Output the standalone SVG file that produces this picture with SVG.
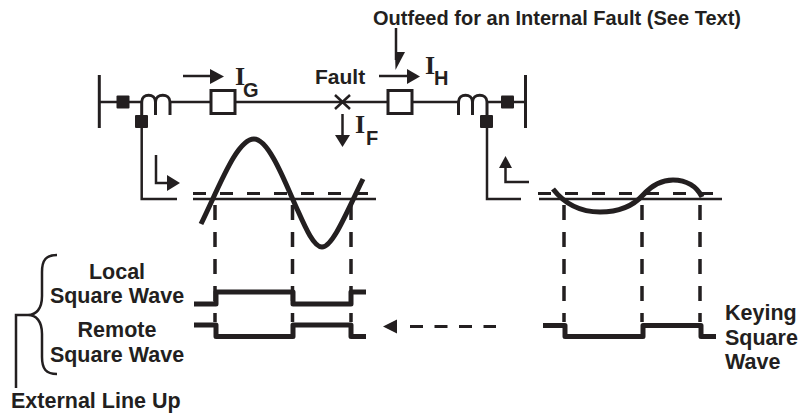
<svg xmlns="http://www.w3.org/2000/svg" width="799" height="415" viewBox="0 0 799 415">
<style>
text{font-family:"Liberation Sans",Arial,sans-serif;font-weight:bold;font-size:21.500px;fill:#231f20}
.top{font-size:20px}
.fault{font-size:21px}
.ser{font-family:"Liberation Serif","Times New Roman",serif;font-size:26px}
.sub{font-size:20px}
.l{fill:none;stroke:#231f20;stroke-width:2.500}
.t{fill:none;stroke:#231f20;stroke-width:3}
.w{fill:none;stroke:#231f20;stroke-width:5;stroke-linejoin:round}
.d{fill:none;stroke:#231f20;stroke-width:3.500;stroke-dasharray:15 12}
.h{fill:none;stroke:#231f20;stroke-width:3;stroke-dasharray:13 14}
.a{fill:none;stroke:#231f20;stroke-width:3;stroke-dasharray:13 11.500}
.f{fill:#231f20}
</style>
<rect width="799" height="415" fill="#fff"/>
<g id="connectors">
<path class="l" d="M99 102H142M170 102H211M235 102H387M412 102H458.500M487 102H525"/>
<path class="l" d="M141.700 115V199H177M487 115V199H521"/>
<path class="l" d="M156 155V183H168"/><path class="f" d="M167 175L180 183L167 191Z"/>
<path class="l" d="M505.500 168V182H529"/><path class="f" d="M499 168L505.500 156L512 168Z"/>
<path class="l" d="M183 76H212"/><path class="f" d="M210 69L224 76.500L210 84Z"/>
<path class="l" d="M379 76H408"/><path class="f" d="M407 69L420 76.500L407 84Z"/>
<path class="l" d="M342.500 114V136"/><path class="f" d="M335 135L342.500 147L350 135Z"/>
<path class="l" d="M396 28V60"/><path class="f" d="M395.500 70L395 52L405 52Z"/>
<path class="l" d="M335 95L350 109M350 95L335 109"/>
</g>
<g id="waveforms">
<path class="h" d="M193 193.500H370M538 193.500H715"/>
<path class="l" d="M193 199H376M539 199H722"/>
<path class="d" d="M215 205V322M292.500 205V322M351 205V322"/>
<path class="d" d="M564 205V322M642 205V322M700 205V322"/>
<path class="w" d="M201 224C220 185 237 139 254 139C270 139 288 190 298 211C306 229 314 247 322 247C333 247 348 209 363 179"/>
<path class="w" d="M553 189C567 207 585 212 600 212C622 212 634 205 643 195C652 185 663 180 673 180C687 180 697 187 702 197"/>
<path class="w" d="M194 304H216V292H293V304H351V292H366"/>
<path class="w" d="M194 325H216V336.500H293V325H351V336.500H366"/>
<path class="w" d="M543 325.500H565V336.500H643V325.500H701V336.500H716"/>
<path class="f" d="M383 326.500L397 319.500V333.500Z"/>
<path class="a" d="M410 326.500H496"/>
<path class="l" d="M16 388V315H28C36 315 42 309 42 296V272C42 260 46 255 57 255M28 315C36 315 42 321 42 334V357C42 369 46 374 57 374"/>
</g>
<g id="bus-left"><path class="t" d="M99.300 75V128"/></g>
<g id="bus-right"><path class="t" d="M525.500 75V128"/></g>
<g id="relay-g1"><rect class="f" x="116.500" y="95.500" width="13" height="13" rx="1"/></g>
<g id="relay-g2"><rect class="f" x="135" y="115" width="13" height="13" rx="1"/></g>
<g id="relay-h1"><rect class="f" x="501" y="95.500" width="13" height="13" rx="1"/></g>
<g id="relay-h2"><rect class="f" x="480" y="115" width="13" height="13" rx="1"/></g>
<g id="ct-left"><path class="t" d="M141.700 115V102C141.700 93 155.500 93 155.500 102V115M155.500 102C155.500 93 170 93 170 102V115"/></g>
<g id="ct-right"><path class="t" d="M458.500 115V102C458.500 93 472.500 93 472.500 102V115M472.500 102C472.500 93 487 93 487 102V115"/></g>
<g id="breaker-g"><rect x="211" y="90.500" width="24" height="23" fill="#fff" stroke="#231f20" stroke-width="3"/></g>
<g id="breaker-h"><rect x="388" y="90.500" width="24" height="23" fill="#fff" stroke="#231f20" stroke-width="3"/></g>
<g id="labels">
<text class="top" x="373" y="25" textLength="368">Outfeed for an Internal Fault (See Text)</text>
<text class="fault" x="315" y="84">Fault</text>
<text class="ser" x="235" y="85">I</text><text class="sub" x="243" y="97">G</text>
<text class="ser" x="425" y="74">I</text><text class="sub" x="434" y="85">H</text>
<text class="ser" x="355" y="133">I</text><text class="sub" x="366" y="145">F</text>
<text x="117" y="279" text-anchor="middle">Local</text>
<text x="117" y="303" text-anchor="middle">Square Wave</text>
<text x="117" y="337" text-anchor="middle">Remote</text>
<text x="117" y="362" text-anchor="middle">Square Wave</text>
<text x="11" y="408">External Line Up</text>
<text x="725" y="320">Keying</text>
<text x="725" y="345">Square</text>
<text x="725" y="369">Wave</text>
</g>
</svg>
